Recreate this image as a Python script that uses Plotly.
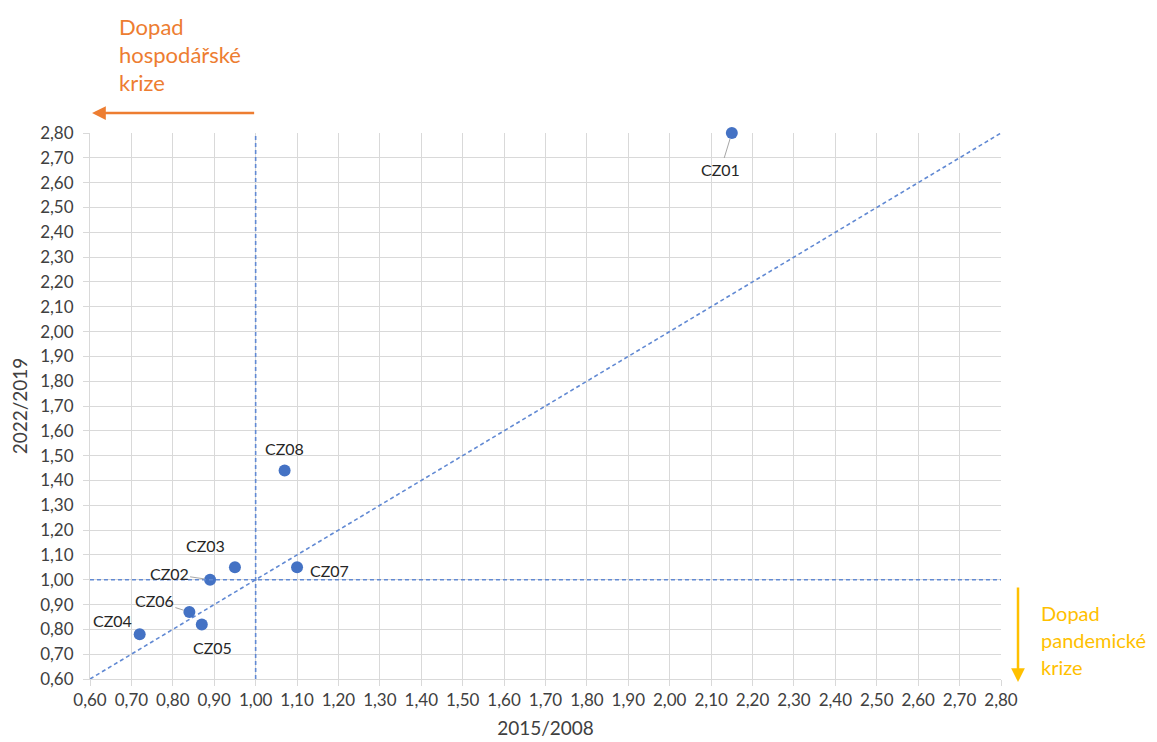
import plotly.graph_objects as go

# ---- data ----
regions = ["CZ01", "CZ02", "CZ03", "CZ04", "CZ05", "CZ06", "CZ07", "CZ08"]
ratio_2015_2008 = [2.15, 0.89, 0.95, 0.72, 0.87, 0.84, 1.10, 1.07]
ratio_2022_2019 = [2.80, 1.00, 1.05, 0.78, 0.82, 0.87, 1.05, 1.44]

axis_min, axis_max = 0.60, 2.80
ref_value = 1.00

# ---- layout constants (screen pixels; page body has an 8px offset) ----
OFF = 8
SW, SH = 1157, 742
W, H = SW - OFF, SH - OFF
PL, PR, PT, PB = 90, 1001, 133, 679          # plot area on screen
ML, MT = PL - OFF, PT - OFF
MR = (W + OFF) - PR
MB = (H + OFF) - PB
PW, PH = PR - PL, PB - PT

def pxx(px):
    return (px - PL) / PW

def pxy(py):
    return (PB - py) / PH

BLUE = "#4472C4"
DASH = "#6189d3"
GRID = "#d9d9d9"
TXT = "#404040"
ORANGE = "#ED7D31"
GOLD = "#FFC000"
FONT = "Lato, 'Open Sans', sans-serif"

fig = go.Figure()

dash_line = dict(color=DASH, width=1.6, dash="4px,3px")

# diagonal line y = x
fig.add_trace(go.Scatter(
    x=[axis_min, axis_max], y=[axis_min, axis_max], mode="lines",
    line=dash_line, hoverinfo="skip", showlegend=False))

# reference lines at 1.00
fig.add_shape(type="line", xref="x", yref="y", x0=ref_value, x1=ref_value, y0=axis_min, y1=axis_max,
              line=dash_line, layer="above")
fig.add_shape(type="line", xref="x", yref="y", x0=axis_min - 0.017, x1=axis_max, y0=ref_value, y1=ref_value,
              line=dash_line, layer="above")

fig.add_trace(go.Scatter(
    x=ratio_2015_2008, y=ratio_2022_2019, mode="markers", text=regions,
    marker=dict(color=BLUE, size=12), showlegend=False, cliponaxis=False))

# label offsets (pixels): (dx, dy, leader)
offsets = {
    "CZ01": (-11, 36, True),
    "CZ02": (-41, -6, True),
    "CZ03": (-29, -22, False),
    "CZ04": (-27, -14, False),
    "CZ05": (11, 23, False),
    "CZ06": (-35, -11, True),
    "CZ07": (32, 3, False),
    "CZ08": (0, -22, False),
}
for name, xv, yv in zip(regions, ratio_2015_2008, ratio_2022_2019):
    dx, dy, leader = offsets[name]
    if leader:
        fig.add_annotation(x=xv, y=yv, text=name, showarrow=True, ax=dx, ay=dy,
                           arrowhead=0, arrowwidth=1, arrowcolor="#a6a6a6", standoff=6,
                           font=dict(size=16, color="#262626", family=FONT))
    else:
        fig.add_annotation(x=xv, y=yv, text=name, showarrow=False, xshift=dx, yshift=-dy,
                           font=dict(size=16, color="#262626", family=FONT))

# crisis arrows
fig.add_annotation(xref="x", yref="paper", x=0.605, y=pxy(113), axref="x", ayref="pixel",
                   ax=ref_value, ay=0, text="", showarrow=True, arrowhead=2, arrowsize=1.1,
                   arrowwidth=2.5, arrowcolor=ORANGE)
fig.add_annotation(xref="paper", yref="y", x=pxx(1018), y=0.588, axref="pixel", ayref="y",
                   ax=0, ay=0.975, text="", showarrow=True, arrowhead=2, arrowsize=1.1,
                   arrowwidth=2.5, arrowcolor=GOLD)

for txt, py in zip(["Dopad", "hospodářské", "krize"], [26, 54, 82]):
    fig.add_annotation(xref="paper", yref="paper", x=pxx(117), y=pxy(py), xanchor="left",
                       yanchor="middle", text=txt, showarrow=False,
                       font=dict(size=22, color=ORANGE, family=FONT))
for txt, py in zip(["Dopad", "pandemické", "krize"], [613, 640, 667]):
    fig.add_annotation(xref="paper", yref="paper", x=pxx(1039), y=pxy(py), xanchor="left",
                       yanchor="middle", text=txt, showarrow=False,
                       font=dict(size=20, color=GOLD, family=FONT))

axis_common = dict(
    range=[axis_min, axis_max], dtick=0.1, tick0=axis_min, tickformat=".2f",
    showgrid=True, gridcolor=GRID, gridwidth=1, zeroline=False,
    showline=True, linecolor=GRID, linewidth=1,
    ticks="outside", ticklen=6, tickcolor=GRID,
    tickfont=dict(size=17, color=TXT, family=FONT),
)
fig.update_xaxes(**axis_common, title=dict(text="2015/2008", font=dict(size=19, color=TXT, family=FONT), standoff=12))
fig.update_yaxes(**axis_common, title=dict(text="2022/2019", font=dict(size=19, color=TXT, family=FONT), standoff=14),
                 ticklabelstandoff=6)

fig.update_layout(
    width=W, height=H, margin=dict(l=ML, r=MR, t=MT, b=MB, autoexpand=False),
    paper_bgcolor="white", plot_bgcolor="white", separators=", ",
    font=dict(family=FONT, color=TXT),
)

fig.write_html("out.html")
